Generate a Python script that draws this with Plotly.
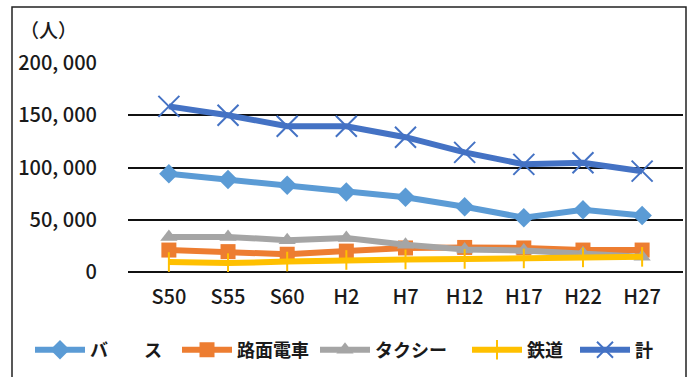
import plotly.graph_objects as go

categories = ["S50", "S55", "S60", "H2", "H7", "H12", "H17", "H22", "H27"]
bus = [94000, 88500, 83000, 76500, 71500, 62500, 52000, 59500, 54000]
tram = [21000, 19500, 17000, 20000, 23000, 23500, 23000, 21000, 21000]
taxi = [33500, 33500, 30500, 32500, 26000, 21500, 20500, 18000, 14500]
rail = [9500, 8500, 10000, 11500, 12000, 12500, 13000, 14000, 14500]
total = [158500, 150000, 139500, 139500, 129000, 114500, 103000, 104500, 96500]
series_names = ["バ　　ス", "路面電車", "タクシー", "鉄道", "計"]
tick_vals = [0, 50000, 100000, 150000, 200000]
tick_text = ["0", "50, 000", "100, 000", "150, 000", "200, 000"]

FONT = "Noto Sans CJK JP"
W, H = 688, 377
L, R, T, B = 128, 5, 63, 105
PW, PH = W - L - R, H - T - B


def px_x(x):
    return (x - L) / PW


def px_y(y):
    return (H - B - y) / PH


fig = go.Figure()
specs = [
    (bus, "#5B9BD5", dict(symbol="diamond", size=15)),
    (tram, "#ED7D31", dict(symbol="square", size=15)),
    (taxi, "#A5A5A5", dict(symbol="triangle-up", size=15)),
    (rail, "#FFC000", dict(symbol="line-ns-open", size=14, line=dict(width=2, color="#FFC000"))),
    (total, "#4472C4", dict(symbol="x-thin-open", size=21, line=dict(width=2, color="#4472C4"))),
]
legend_ids = ["legend", "legend2", "legend3", "legend4", "legend5"]
legend_x = [30, 177, 315, 467, 575]
for (vals, color, mk), name, lid in zip(specs, series_names, legend_ids):
    mk = dict(mk)
    mk.setdefault("color", color)
    fig.add_trace(go.Scatter(
        x=categories, y=vals, name=name, mode="lines+markers",
        line=dict(color=color, width=6), marker=mk, legend=lid,
    ))

legend_common = dict(orientation="h", xref="container", yref="container",
                     xanchor="left", y=(H - 350) / H, yanchor="middle",
                     font=dict(size=18, color="#1a1a1a", family=FONT, weight=600), itemwidth=50,
                     bgcolor="rgba(0,0,0,0)", borderwidth=0)
legends = {}
for lid, lx in zip(legend_ids, legend_x):
    legends[lid] = dict(legend_common, x=lx / W)

fig.update_layout(
    width=W, height=H,
    margin=dict(l=L, r=R, t=T, b=B, autoexpand=False),
    paper_bgcolor="white", plot_bgcolor="white",
    font=dict(family=FONT, size=17, color="#1a1a1a"),
    showlegend=True,
    xaxis=dict(type="category", showgrid=False, showline=False, ticks="",
               tickfont=dict(size=20, color="#1a1a1a", weight=500), ticklabelstandoff=11),
    yaxis=dict(range=[0, 200000], tickvals=tick_vals, ticktext=tick_text,
               showgrid=True, gridcolor="#111", gridwidth=1.8, zeroline=True,
               zerolinecolor="#111", zerolinewidth=1.8, showline=False, ticks="",
               ticklabelstandoff=30, tickfont=dict(size=20, color="#1a1a1a", weight=500)),
    annotations=[dict(text="（人）", xref="paper", yref="paper", x=px_x(48), y=px_y(30),
                      xanchor="center", yanchor="middle", showarrow=False,
                      font=dict(size=19, color="#1a1a1a", weight=500))],
    shapes=[dict(type="rect", xref="paper", yref="paper",
                 x0=px_x(12), x1=px_x(686),
                 y0=px_y(420), y1=px_y(7), line=dict(color="#222", width=1.5))],
    **legends,
)
fig.write_html("out.html")
